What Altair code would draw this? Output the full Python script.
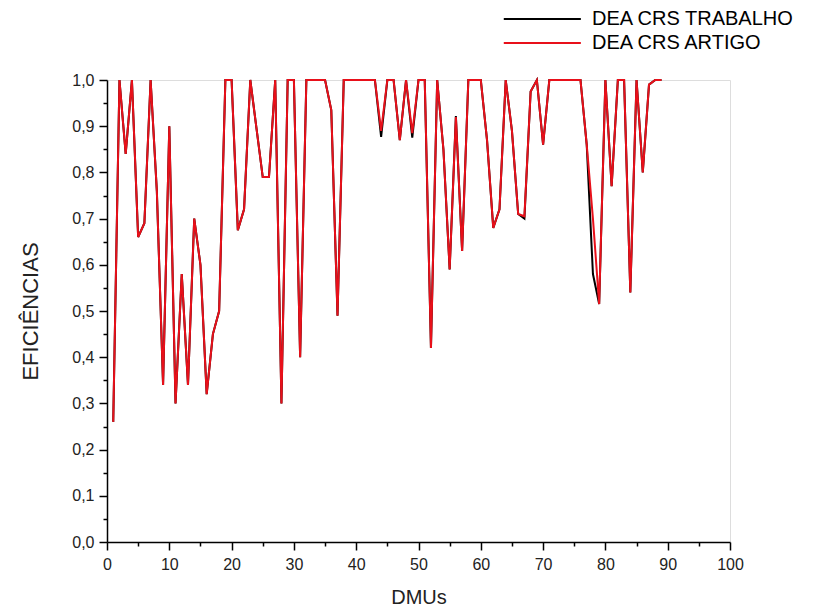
import altair as alt
import pandas as pd

dmus = list(range(1, 90))

trabalho = [0.26, 1.0, 0.84, 1.0, 0.66, 0.69, 1.0, 0.76, 0.34, 0.90,
            0.30, 0.58, 0.34, 0.70, 0.60, 0.32, 0.45, 0.50, 1.0, 1.0,
            0.675, 0.72, 1.0, 0.895, 0.79, 0.79, 1.0, 0.30, 1.0, 1.0,
            0.40, 1.0, 1.0, 1.0, 1.0, 0.935, 0.49, 1.0, 1.0, 1.0,
            1.0, 1.0, 1.0, 0.877, 1.0, 1.0, 0.87, 1.0, 0.875, 1.0,
            1.0, 0.42, 1.0, 0.85, 0.59, 0.922, 0.63, 1.0, 1.0, 1.0,
            0.87, 0.68, 0.72, 1.0, 0.89, 0.71, 0.70, 0.975, 1.0, 0.86,
            1.0, 1.0, 1.0, 1.0, 1.0, 1.0, 0.86, 0.58, 0.515, 1.0,
            0.77, 1.0, 1.0, 0.54, 1.0, 0.80, 0.99, 1.0, 1.0]

artigo = [0.26, 1.0, 0.84, 1.0, 0.66, 0.69, 1.0, 0.76, 0.34, 0.90,
          0.30, 0.58, 0.34, 0.70, 0.60, 0.32, 0.45, 0.50, 1.0, 1.0,
          0.675, 0.72, 1.0, 0.895, 0.79, 0.79, 1.0, 0.30, 1.0, 1.0,
          0.40, 1.0, 1.0, 1.0, 1.0, 0.935, 0.49, 1.0, 1.0, 1.0,
          1.0, 1.0, 1.0, 0.89, 1.0, 1.0, 0.87, 1.0, 0.885, 1.0,
          1.0, 0.42, 1.0, 0.85, 0.59, 0.92, 0.63, 1.0, 1.0, 1.0,
          0.87, 0.68, 0.72, 1.0, 0.89, 0.71, 0.705, 0.975, 1.0, 0.86,
          1.0, 1.0, 1.0, 1.0, 1.0, 1.0, 0.86, 0.70, 0.515, 1.0,
          0.77, 1.0, 1.0, 0.54, 1.0, 0.80, 0.99, 1.0, 1.0]

series_names = ["DEA CRS TRABALHO", "DEA CRS ARTIGO"]
series_colors = ["#000000", "#e8101a"]

x_major = list(range(0, 101, 10))
x_minor = list(range(5, 100, 10))
y_major = [round(i * 0.1, 2) for i in range(11)]
y_minor = [round(0.05 + i * 0.1, 2) for i in range(10)]

df = pd.DataFrame({
    "DMU": dmus * 2,
    "value": trabalho + artigo,
    "series": [series_names[0]] * len(dmus) + [series_names[1]] * len(dmus),
})

FONT = "Liberation Sans"

legend = alt.Legend(
    title=None, orient="none", legendX=447, legendY=-75,
    symbolType="M-5,0H1", symbolSize=660, symbolStrokeWidth=2,
    labelFont=FONT, labelFontSize=20, labelColor="#000000", labelLimit=0,
    labelOffset=10, rowPadding=0, padding=0,
)

color = alt.Color("series:N", scale=alt.Scale(domain=series_names, range=series_colors),
                  legend=legend)

x_scale = alt.Scale(domain=[0, 100], nice=False, zero=False)
y_scale = alt.Scale(domain=[0, 1], nice=False)

major_x = alt.Axis(values=x_major, orient="bottom", tickSize=8, tickColor="#000", tickWidth=1.5,
                   domainColor="#000", domainWidth=1.5, labelFont=FONT, labelFontSize=16,
                   labelColor="#222", labelPadding=6, title="DMUs", titleFont=FONT,
                   titleFontSize=20, titleFontWeight="normal", titleColor="#222",
                   titlePadding=15, grid=False, labelFlush=False)
major_y = alt.Axis(values=y_major, orient="left", tickSize=8, tickColor="#000", tickWidth=1.5,
                   domainColor="#000", domainWidth=1.5, labelFont=FONT, labelFontSize=16,
                   labelColor="#222", labelPadding=5,
                   labelExpr="replace(format(datum.value, '.1f'), '.', ',')",
                   title="EFICIÊNCIAS", titleFont=FONT, titleFontSize=22,
                   titleFontWeight="normal", titleColor="#222", titlePadding=29,
                   grid=False, labelFlush=False)
minor_x = alt.Axis(values=x_minor, orient="bottom", tickSize=4, tickColor="#000", tickWidth=1.5,
                   domain=False, labels=False, title=None, grid=False)
minor_y = alt.Axis(values=y_minor, orient="left", tickSize=4, tickColor="#000", tickWidth=1.5,
                   domain=False, labels=False, title=None, grid=False)

l1 = alt.Chart(df).transform_filter(
    alt.datum.series == series_names[0]
).mark_line(strokeWidth=2).encode(
    x=alt.X("DMU:Q", scale=x_scale, axis=major_x),
    y=alt.Y("value:Q", scale=y_scale, axis=major_y),
    color=color,
)

l2 = alt.Chart(df).transform_filter(
    alt.datum.series == series_names[1]
).mark_line(strokeWidth=2).encode(
    x=alt.X("DMU:Q", scale=x_scale, axis=minor_x),
    y=alt.Y("value:Q", scale=y_scale, axis=minor_y),
    color=color,
)

chart = alt.layer(l1, l2).resolve_axis(x="independent", y="independent").properties(
    width=623, height=462,
    autosize=alt.AutoSizeParams(type="none"),
    padding={"left": 99, "top": 72, "right": 80, "bottom": 66},
).configure_view(stroke=None).configure(background="white")

chart.save("out.html", embed_options={"renderer": "svg", "actions": False})
